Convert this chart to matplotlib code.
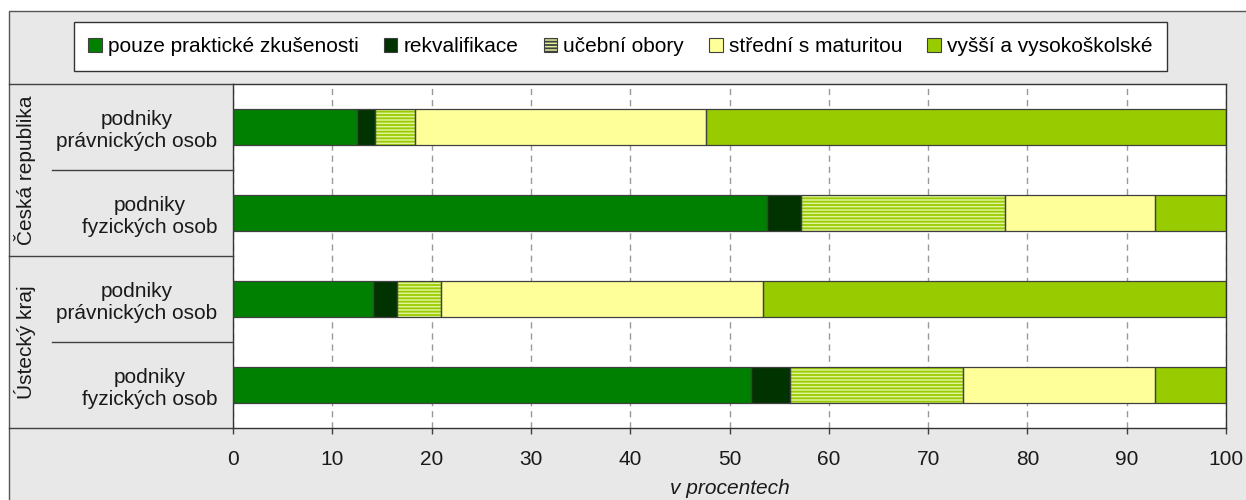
import matplotlib
matplotlib.use('Agg')
import matplotlib.pyplot as plt
from matplotlib.patches import Rectangle, Patch
from matplotlib.lines import Line2D
import numpy as np

plt.rcParams['font.family'] = ['Liberation Sans', 'DejaVu Sans']
plt.rcParams['hatch.linewidth'] = 1.3

# data (per cent)
row_labels = ['podniky\nprávnických osob', 'podniky\nfyzických osob',
              'podniky\nprávnických osob', 'podniky\nfyzických osob']
groups = ['Česká republika', 'Ústecký kraj']
series_names = ['pouze praktické zkušenosti', 'rekvalifikace', 'učební obory',
                'střední s maturitou', 'vyšší a vysokoškolské']
prakticke = [12.5, 53.8, 14.1, 52.2]
rekvalifikace = [1.8, 3.4, 2.4, 3.9]
ucebni = [4.0, 20.5, 4.4, 17.4]
stredni = [29.3, 15.1, 32.5, 19.3]
vyssi = [52.4, 7.2, 46.6, 7.2]
xticks = list(range(0, 101, 10))

colors = ['#008000', '#003300', '#e0f29a', '#ffff99', '#99cc00']
hatches = [None, None, '-----', None, None]

FS = 15
W, H = 1246, 500
def px(x):
    return x / W
def py(y):
    return 1 - y / H

fig = plt.figure(figsize=(12.46, 5.0), dpi=100)

# grey chart background with frame
fig.add_artist(Rectangle((px(9), -0.1), 1.2, py(11) + 0.1, transform=fig.transFigure,
                         facecolor='#e8e8e8', edgecolor='#555555', lw=1, zorder=-1))

ax = fig.add_axes([px(233), py(428), px(1226) - px(233), py(84) - py(428)])
ax.set_facecolor('white')

y = np.arange(len(row_labels))
left = np.zeros(len(row_labels))
all_series = [prakticke, rekvalifikace, ucebni, stredni, vyssi]
for vals, c, h in zip(all_series, colors, hatches):
    vals = np.array(vals)
    if h:
        ax.barh(y, vals, left=left, height=0.42, color=c, hatch=h,
                edgecolor='#99cc00', lw=0, zorder=2)
    else:
        ax.barh(y, vals, left=left, height=0.42, color=c, lw=0, zorder=2)
    ax.barh(y, vals, left=left, height=0.42, fill=False,
            edgecolor='#404040', lw=0.9, zorder=3)
    left += vals

ax.set_xlim(0, 100)
ax.set_ylim(3.5, -0.5)
ax.set_xticks(xticks)
ax.set_yticks(y)
ax.set_yticklabels(row_labels, ma='center', fontsize=FS, color='#1a1a1a')
ax.tick_params(axis='y', length=0, pad=11.5)
ax.tick_params(axis='x', direction='out', length=4.3, width=1, color='#404040',
               pad=11.5, labelsize=FS, labelcolor='#1a1a1a')
ax.xaxis.grid(True, color='#999999', linestyle=(0, (4.5, 3.5)), lw=1)
ax.set_axisbelow(True)
for s in ax.spines.values():
    s.set_color('#333333')
    s.set_linewidth(1)
ax.set_xlabel('v procentech', style='italic', fontsize=FS, labelpad=7, color='#1a1a1a')

# left panel lines
line_kw = dict(transform=fig.transFigure, color='#404040', lw=1)
fig.add_artist(Line2D([px(9), px(233)], [py(84), py(84)], **line_kw))
fig.add_artist(Line2D([px(9), px(233)], [py(256), py(256)], **line_kw))
fig.add_artist(Line2D([px(9), px(233)], [py(428), py(428)], **line_kw))
fig.add_artist(Line2D([px(52), px(233)], [py(170), py(170)], **line_kw))
fig.add_artist(Line2D([px(52), px(233)], [py(342), py(342)], **line_kw))

for g, yc in zip(groups, [170, 342]):
    fig.text(px(25), py(yc), g, rotation=90, ha='center', va='center',
             fontsize=FS, color='#1a1a1a')

handles = [Patch(facecolor=c, edgecolor='#404040', lw=0.8, hatch=h)
           for c, h in zip(colors, hatches)]
leg = fig.legend(handles, series_names, loc='center',
                 bbox_to_anchor=(px(620.5), py(46.5)), ncol=5, fontsize=FS,
                 frameon=True, fancybox=False, framealpha=1, edgecolor='#333333',
                 borderpad=0.7, handlelength=0.65, handleheight=0.65,
                 handletextpad=0.3, columnspacing=1.2)
leg.get_frame().set_linewidth(1)

fig.savefig('out.png', dpi=100)
